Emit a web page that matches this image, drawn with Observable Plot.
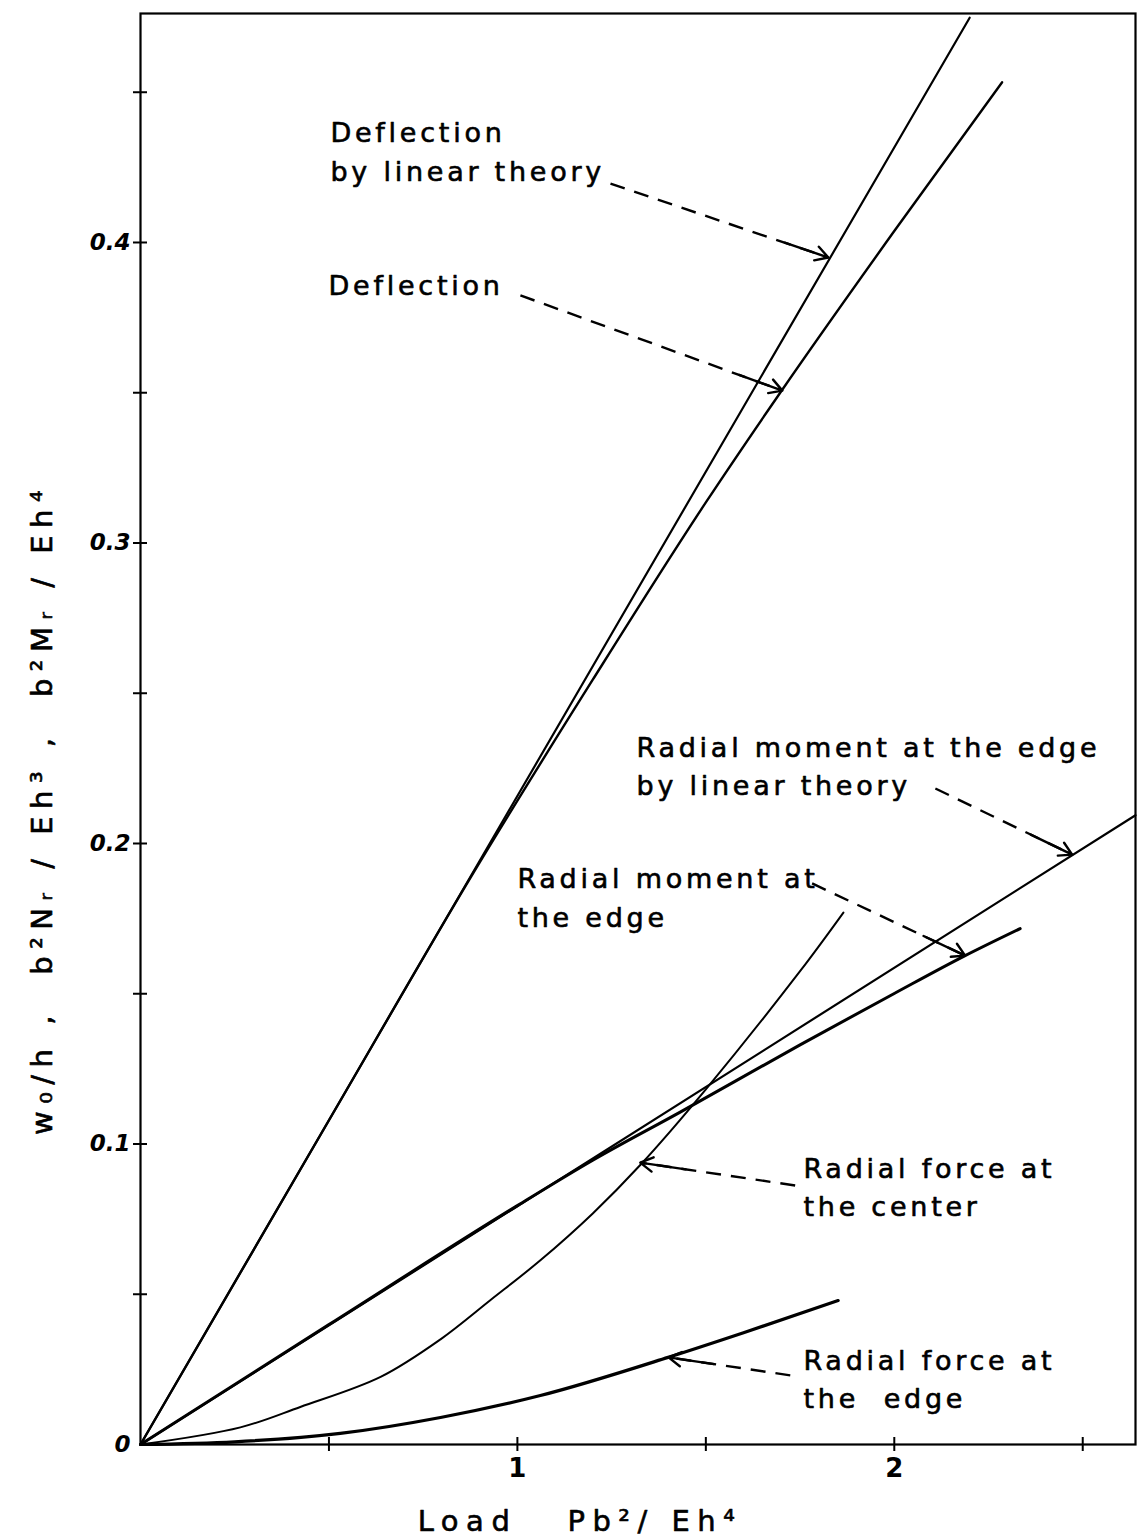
<!DOCTYPE html>
<html>
<head>
<meta charset="utf-8">
<script src="https://cdn.jsdelivr.net/npm/d3@7"></script>
<script src="https://cdn.jsdelivr.net/npm/@observablehq/plot@0.6"></script>
<style>
  html, body { margin: 0; padding: 0; background: #fff; }
  #chart svg { display: block; }
</style>
</head>
<body>
<div id="chart"></div>
<script>
// ---- Data ----
// Load Pb²/Eh⁴ values and ordinates of each curve
const loadDefLin = [0, 2.2];
const defLin = [0, 0.4748];

const loadDef = [0, 0.5, 0.9, 1.2, 1.5, 1.7, 2.0, 2.286];
const def = [0, 0.1079, 0.1937, 0.2545, 0.3135, 0.3505, 0.4038, 0.4533];

const loadMomLin = [0, 2.64];
const momLin = [0, 0.2094];

const loadMom = [0, 0.5, 1.0, 1.2, 1.432, 1.75, 2.0, 2.188, 2.334];
const mom = [0, 0.0399, 0.0795, 0.0946, 0.1106, 0.1330, 0.1501, 0.1627, 0.1717];

const loadFc = [0, 0.265, 0.424, 0.637, 0.796, 0.928, 1.061, 1.2, 1.326, 1.5, 1.75, 1.865];
const fc = [0, 0.0057, 0.0125, 0.0225, 0.0350, 0.0480, 0.0613, 0.0769, 0.0930, 0.1182, 0.1575, 0.1770];

const loadFe = [0, 0.25, 0.53, 0.796, 1.061, 1.4, 1.6, 1.851];
const fe = [0, 0.0009, 0.0037, 0.009, 0.0163, 0.029, 0.0372, 0.0479];

// Axis ticks
const xTicksMinor = [0.5, 1, 1.5, 2, 2.5];
const xTickLabels = [1, 2];
const yTicksMinor = [0.05, 0.1, 0.15, 0.2, 0.25, 0.3, 0.35, 0.4, 0.45];
const yTickLabels = [0, 0.1, 0.2, 0.3, 0.4];

// Annotations (data coordinates)
const labelText = [
  "Deflection\nby linear theory",
  "Deflection",
  "Radial moment at the edge\nby linear theory",
  "Radial moment at\nthe edge",
  "Radial force at\nthe center",
  "Radial force at\nthe  edge"
];
const labelLoad = [0.504, 0.499, 1.316, 1.0, 1.759, 1.759];
const labelValue = [0.4310, 0.3867, 0.2266, 0.1827, 0.0865, 0.0226];

const arrowLoadFrom = [1.247, 1.008, 2.109, 1.782, 1.737, 1.724];
const arrowValFrom  = [0.4196, 0.3824, 0.2183, 0.1867, 0.0862, 0.0230];
const arrowLoadTo   = [1.825, 1.703, 2.472, 2.188, 1.326, 1.401];
const arrowValTo    = [0.3950, 0.3507, 0.1963, 0.1627, 0.0938, 0.0290];

const xLabel = "Load   Pb²/ Eh⁴";
const yLabel = "w₀/h ,  b²Nᵣ / Eh³ ,  b²Mᵣ / Eh⁴";

// ---- Layout ----
const W = 1137, H = 1539, mL = 140, mR = 2, mT = 13, mB = 95;
const xDomain = [0, 2.64], yDomain = [0, 0.4762];
const kx = (W - mL - mR) / (xDomain[1] - xDomain[0]);
const ky = (H - mT - mB) / (yDomain[1] - yDomain[0]);
const idx = d3.range(arrowLoadFrom.length);
// fraction of each leader drawn solid so that the arrow head fits (~46 px)
const headFrac = idx.map(i => {
  const len = Math.hypot((arrowLoadFrom[i] - arrowLoadTo[i]) * kx, (arrowValFrom[i] - arrowValTo[i]) * ky);
  return Math.min(0.5, 46 / len);
});
const font = "DejaVu Sans";

const chart = Plot.plot({
  width: W,
  height: H,
  marginLeft: mL,
  marginRight: mR,
  marginTop: mT,
  marginBottom: mB,
  style: { fontFamily: font, fontSize: "24px", background: "#fff", color: "#000" },
  x: { domain: xDomain, axis: null },
  y: { domain: yDomain, axis: null },
  marks: [
    Plot.frame({ stroke: "#000", strokeWidth: 2.2 }),
    // ticks crossing the axis lines
    Plot.axisY(yTicksMinor, { anchor: "left", tickSize: 14, dx: 7, tickFormat: () => "", label: null, strokeWidth: 2 }),
    Plot.axisX(xTicksMinor, { anchor: "bottom", tickSize: 14, dy: -7, tickFormat: () => "", label: null, strokeWidth: 2 }),
    // tick labels
    Plot.axisY(yTickLabels, { anchor: "left", tickSize: 0, tickPadding: 10, label: null,
      tickFormat: d => d === 0 ? "0" : d.toFixed(1), fontSize: 23, fontStyle: "italic", fontWeight: "bold" }),
    Plot.axisX(xTickLabels, { anchor: "bottom", tickSize: 0, tickPadding: 14, label: null,
      tickFormat: d => String(d), fontSize: 26, fontWeight: "bold" }),
    // curves
    Plot.line(loadDefLin, { x: loadDefLin, y: defLin, stroke: "#000", strokeWidth: 2.2 }),
    Plot.line(loadDef, { x: loadDef, y: def, curve: "monotone-x", stroke: "#000", strokeWidth: 2.4 }),
    Plot.line(loadMomLin, { x: loadMomLin, y: momLin, stroke: "#000", strokeWidth: 2.2 }),
    Plot.line(loadMom, { x: loadMom, y: mom, curve: "monotone-x", stroke: "#000", strokeWidth: 3 }),
    Plot.line(loadFc, { x: loadFc, y: fc, curve: "catmull-rom", stroke: "#000", strokeWidth: 2 }),
    Plot.line(loadFe, { x: loadFe, y: fe, curve: "monotone-x", stroke: "#000", strokeWidth: 3.2 }),
    // dashed leader lines
    Plot.link(idx, {
      x1: i => arrowLoadFrom[i], y1: i => arrowValFrom[i],
      x2: i => arrowLoadTo[i], y2: i => arrowValTo[i],
      stroke: "#000", strokeWidth: 2.4, strokeDasharray: "15,10"
    }),
    // arrow heads
    Plot.arrow(idx, {
      x1: i => arrowLoadTo[i] + (arrowLoadFrom[i] - arrowLoadTo[i]) * headFrac[i],
      y1: i => arrowValTo[i] + (arrowValFrom[i] - arrowValTo[i]) * headFrac[i],
      x2: i => arrowLoadTo[i], y2: i => arrowValTo[i],
      stroke: "#000", strokeWidth: 2.4, headLength: 9, headAngle: 60
    }),
    // annotation text
    Plot.text(idx, {
      x: i => labelLoad[i], y: i => labelValue[i], text: i => labelText[i],
      textAnchor: "start", lineAnchor: "middle", lineHeight: 1.44,
      fontSize: 27, fill: "#000", stroke: "#000", strokeWidth: 0.6
    }),
    // axis titles
    Plot.text([xLabel], { text: d => d, frameAnchor: "bottom", textAnchor: "middle", lineAnchor: "middle",
      dx: -58, dy: 77, fontSize: 29, fill: "#000", stroke: "#000", strokeWidth: 0.6 }),
    Plot.text([yLabel], { text: d => d, frameAnchor: "left", textAnchor: "middle", lineAnchor: "middle",
      dx: -98, dy: 80, rotate: -90, fontSize: 29, fill: "#000", stroke: "#000", strokeWidth: 0.6 })
  ]
});

// hand-lettered look: wider letter spacing for the text labels
const sel = d3.select(chart).selectAll("g[aria-label='text'] text");
sel.style("letter-spacing", "3.75px");
sel.filter(function () { return this.textContent === xLabel || this.textContent === yLabel; })
  .style("letter-spacing", "7.5px");
document.getElementById("chart").appendChild(chart);
</script>
</body>
</html>
